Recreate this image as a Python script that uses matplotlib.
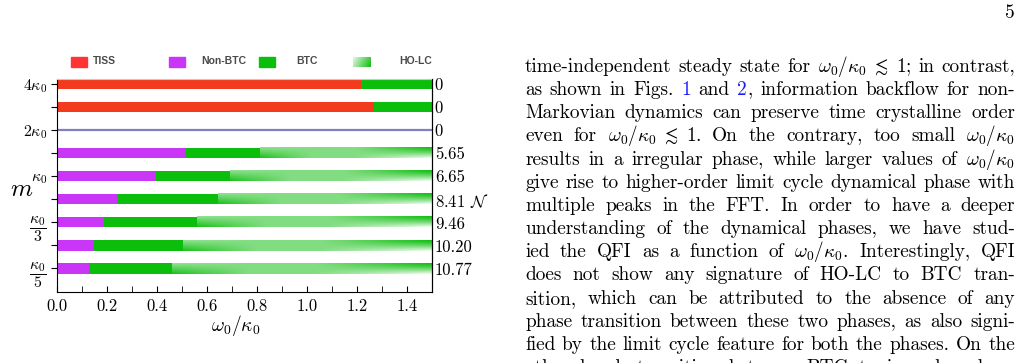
import re
import numpy as np
import matplotlib
matplotlib.use('Agg')
import matplotlib.pyplot as plt
from matplotlib.patches import Rectangle
from matplotlib.ticker import MultipleLocator, FormatStrFormatter

plt.rcParams['font.family'] = ['cmr10', 'DejaVu Serif']
plt.rcParams['mathtext.fontset'] = 'cm'
plt.rcParams['axes.formatter.use_mathtext'] = True
plt.rcParams['axes.unicode_minus'] = False

# rows from top (m = 4 kappa_0) to bottom (m = kappa_0 / 5)
m_labels = [r'$4\kappa_0$', '', r'$2\kappa_0$', '', r'$\kappa_0$', '',
            r'$\dfrac{\kappa_0}{3}$', '', r'$\dfrac{\kappa_0}{5}$']
tiss_end = [1.216, 1.267, 0, 0, 0, 0, 0, 0, 0]
nonbtc_end = [0, 0, 0, 0.512, 0.396, 0.241, 0.188, 0.149, 0.129]
btc_end = [1.5, 1.5, 0, 0.812, 0.690, 0.644, 0.559, 0.503, 0.459]
holc_end = [0, 0, 0, 1.5, 1.5, 1.5, 1.5, 1.5, 1.5]
qfi = ['0', '0', '0', '5.65', '6.65', '8.41', '9.46', '10.20', '10.77']
boundary_row = 2          # the 2 kappa_0 row is drawn as a line only
qfi_name_row = 5          # where the N symbol is written

legend_names = ['TISS', 'Non-BTC', 'BTC', 'HO-LC']

red = '#F33A1E'
purple = '#C936F8'
green = '#0BBE0B'
line_blue = '#7F80C0'

W, H = 1021, 363
fig = plt.figure(figsize=(W / 100, H / 100), dpi=100)
fig.patch.set_facecolor('white')


def holc_image(nx=300, ny=16):
    # amount of white mixed into the green; rows go top -> bottom
    xs = np.linspace(0, 1, nx)[None, :]
    yu = np.linspace(1, 0, ny)[:, None]          # 1 = top of the bar
    left = 0.05 + 0.5 * yu                        # dark at bottom, lighter on top
    mid = 0.48 + 0.0 * yu
    right = 0.02 + 0.9 * (1 - yu) ** 1.3          # dark on top, white at bottom
    a = np.clip(xs / 0.3, 0, 1)
    b = np.clip((xs - 0.55) / 0.43, 0, 1)
    w = np.where(xs < 0.55, left * (1 - a) + mid * a, mid * (1 - b) + right * b)
    w = np.clip(w, 0, 0.95)
    base = np.array([15, 190, 15]) / 255
    return base * (1 - w[..., None]) + w[..., None]


ax = fig.add_axes([57 / W, 1 - 292 / H, 375 / W, 213 / H])
n = len(m_labels)
h = 0.44
img = holc_image()
for i in range(n):
    y = n - 1 - i
    if i == boundary_row:
        ax.plot([0, 1.5], [y, y], color=line_blue, lw=1.6)
        continue
    if tiss_end[i] > 0:
        ax.barh(y, tiss_end[i], height=h, color=red, lw=0)
    if nonbtc_end[i] > 0:
        ax.barh(y, nonbtc_end[i], height=h, color=purple, lw=0)
    start = max(tiss_end[i], nonbtc_end[i])
    ax.barh(y, btc_end[i] - start, left=start, height=h, color=green, lw=0)
    if holc_end[i] > btc_end[i]:
        ax.imshow(img, extent=(btc_end[i], holc_end[i], y - h / 2, y + h / 2),
                  aspect='auto', origin='upper', interpolation='bilinear', zorder=2)

ax.set_xlim(0, 1.5)
ax.set_ylim(-1.02, n - 1 + 0.22)
ax.xaxis.set_major_locator(MultipleLocator(0.2))
ax.xaxis.set_minor_locator(MultipleLocator(0.1))
ax.xaxis.set_major_formatter(FormatStrFormatter('%.1f'))
ax.tick_params(axis='x', which='both', direction='in', length=4, labelsize=12, pad=5)
ax.set_yticks(range(n - 1, -1, -1))
ax.set_yticklabels(m_labels)
ax.tick_params(axis='y', direction='out', length=4, labelsize=11.5, pad=3)
ax.spines['top'].set_color('#c8c8c8')
ax.spines['top'].set_linewidth(0.8)

ax2 = ax.twinx()
ax2.set_ylim(ax.get_ylim())
ax2.set_yticks(range(n - 1, -1, -1))
ax2.set_yticklabels([q + r' $\mathcal{N}$' if i == qfi_name_row else q
                     for i, q in enumerate(qfi)])
ax2.tick_params(axis='y', length=0, labelsize=12, pad=2)
for s in ['top', 'left', 'bottom']:
    ax2.spines[s].set_visible(False)

fig.text(236 / W, 1 - 325 / H, r'$\omega_0/\kappa_0$', fontsize=14,
         ha='center', va='center')
fig.text(22 / W, 1 - 190 / H, r'$m$', fontsize=18, ha='center', va='center')

# legend
leg_colors = ['#FF3535', purple, green, None]
leg_patch_x = [71, 169, 259, 353]
leg_text_x = [93, 201, 296, 399]
for name, c, px, tx in zip(legend_names, leg_colors, leg_patch_x, leg_text_x):
    if c is not None:
        fig.patches.append(Rectangle((px / W, 1 - 67 / H), 16 / W, 10 / H,
                                     color=c, transform=fig.transFigure))
    else:
        lax = fig.add_axes([px / W, 1 - 67 / H, 17 / W, 10 / H])
        g = np.linspace(0.8, 0.1, 60)[None, :] + np.linspace(0.1, -0.1, 8)[:, None]
        g = np.clip(g, 0, 1)
        base = np.array([15, 190, 15]) / 255
        lax.imshow(base * (1 - g[..., None]) + g[..., None], aspect='auto',
                   interpolation='bilinear')
        lax.axis('off')
    fig.text(tx / W, 1 - 61.5 / H, name, fontsize=7.5, fontweight='bold',
             family='Liberation Sans', color='#4a4a4a', va='center', ha='left')

# body text on the right of the page
body = [
    r"time-independent steady state for $\omega_0/\kappa_0\;\lesssim\;1$; in contrast,",
    r"as shown in Figs. #1# and #2#, information backflow for non-",
    r"Markovian dynamics can preserve time crystalline order",
    r"even for $\omega_0/\kappa_0\;\lesssim\;1$.  On the contrary, too small $\omega_0/\kappa_0$",
    r"results in a irregular phase, while larger values of $\omega_0/\kappa_0$",
    r"give rise to higher-order limit cycle dynamical phase with",
    r"multiple peaks in the FFT. In order to have a deeper",
    r"understanding of the dynamical phases, we have stud-",
    r"ied the QFI as a function of $\omega_0/\kappa_0$.  Interestingly, QFI",
    r"does not show any signature of HO-LC to BTC tran-",
    r"sition, which can be attributed to the absence of any",
    r"phase transition between these two phases, as also signi-",
    r"fied by the limit cycle feature for both the phases. On the",
    r"other hand, transition between BTC to irregular phase",
]

renderer = fig.canvas.get_renderer()
fs = 13.9


def put_line(line, y_px, x0=525, x1=1015):
    words = re.findall(r'(?:\$[^$]*\$|\S)+', line)
    groups = []
    for wd in words:
        objs = []
        for k, p in enumerate(wd.split('#')):
            if p == '':
                continue
            t = fig.text(0, 0, p, fontsize=fs, color='#1a1aff' if k % 2 else 'black',
                         va='baseline', ha='left')
            objs.append((t, t.get_window_extent(renderer).width))
        groups.append(objs)
    total = sum(w for objs in groups for _, w in objs)
    gap = (x1 - x0 - total) / (len(groups) - 1)
    x = x0
    for objs in groups:
        for t, w in objs:
            t.set_position((x / W, 1 - y_px / H))
            x += w
        x += gap


for i, line in enumerate(body):
    put_line(line, 71.7 + 23.2 * i)

fig.text(1015 / W, 1 - 18 / H, '5', fontsize=fs, ha='right', va='baseline')

fig.savefig('out.png', dpi=100, facecolor='white')
